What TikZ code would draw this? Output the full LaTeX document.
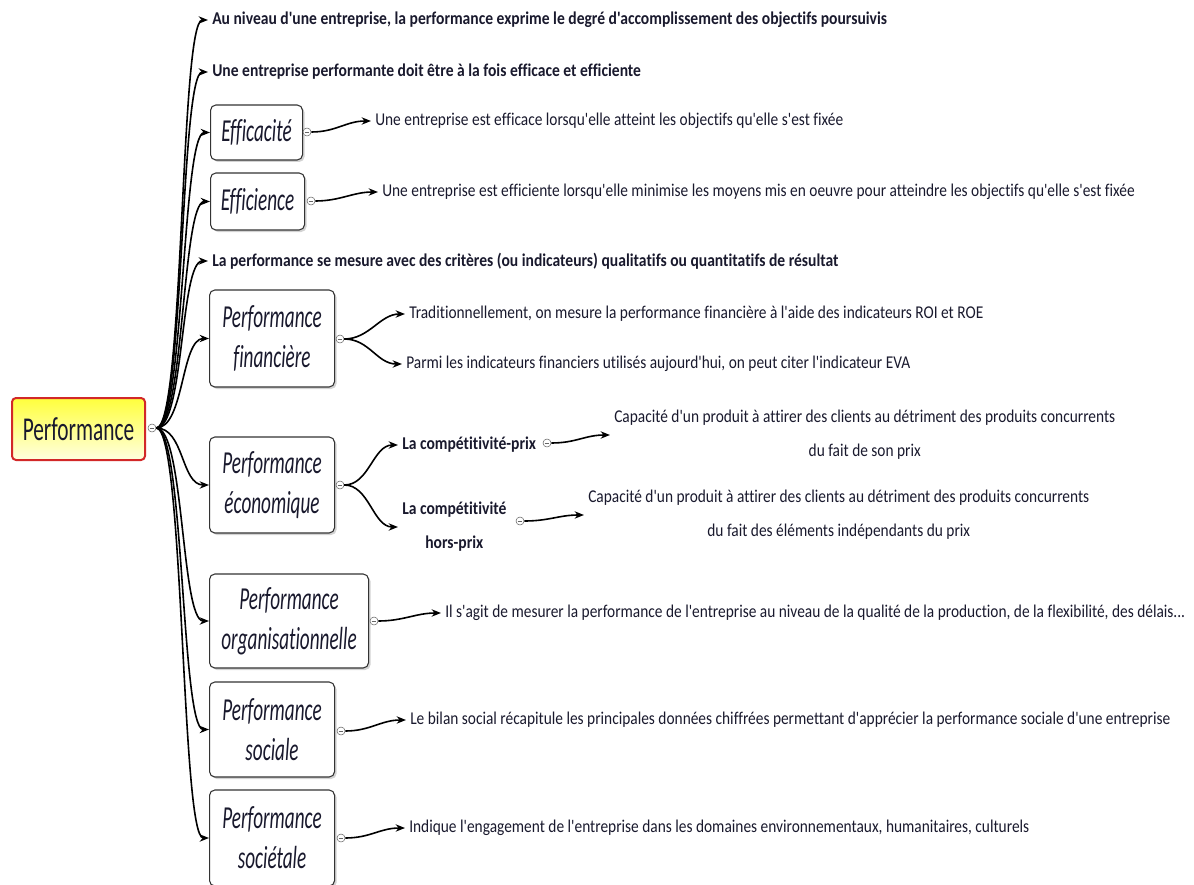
\documentclass[tikz,border=0pt]{standalone}
\usepackage{fontspec}
\setmainfont[FakeStretch=0.855,BoldFeatures={FakeStretch=0.866},Ligatures={TeXOff,NoCommon}]{Carlito}
\newfontfamily\boxfont[FakeStretch=0.6,Ligatures={TeXOff,NoCommon}]{Carlito}
\newfontfamily\rootfont[FakeStretch=0.64,Ligatures={TeXOff,NoCommon}]{Carlito}
\usetikzlibrary{arrows.meta,shadows}
\definecolor{txt}{RGB}{25,25,45}
\definecolor{rootred}{RGB}{210,40,40}
\definecolor{rootyel}{RGB}{255,255,60}

\begin{document}
\begin{tikzpicture}[x=0.75pt,y=-0.75pt,
  leaf/.style={anchor=west,inner sep=3pt,text=txt,align=center,font=\fontsize{13.5}{25.5}\selectfont},
  bleaf/.style={leaf,font=\fontsize{13.5}{25.5}\selectfont\bfseries},
  topic/.style={draw=black!80,fill=white,rounded corners=4pt,line width=0.8pt,anchor=west,inner sep=0pt,align=center,text=txt,
    font=\boxfont\itshape\fontsize{24}{30}\selectfont,drop shadow={shadow xshift=1.5pt,shadow yshift=-1.5pt,opacity=0.35}},
  central/.style={draw=rootred,line width=1.5pt,rounded corners=3pt,top color=rootyel,bottom color=yellow!12,text=txt,
    minimum width=99.75pt,minimum height=46.5pt,font=\rootfont\fontsize{25}{30}\selectfont},
  knob/.style={circle,draw=black!60,fill=white,minimum size=6pt,inner sep=0pt,
    path picture={\draw[black!60] ([xshift=-1.8pt]path picture bounding box.center)--([xshift=1.8pt]path picture bounding box.center);}},
  link/.style={line width=1.2pt,-{Stealth[length=7pt,width=5.5pt]}}]
\path[use as bounding box,clip] (0,0) rectangle (1194,884);

\node[central] (perf) at (78.5,429) {Performance};
\node[knob] (kperf) at (152,428) {};

\node[bleaf] (niveau) at (208,20) {Au niveau d'une entreprise, la performance exprime le degré d'accomplissement des objectifs poursuivis};
\node[bleaf] (performante) at (208,72) {Une entreprise performante doit être à la fois efficace et efficiente};
\node[topic,minimum width=69pt,minimum height=41.25pt] (efficacite) at (210,132.5) {Efficacité};
\node[topic,minimum width=70.5pt,minimum height=42.75pt] (efficience) at (210,201.5) {Efficience};
\node[bleaf] (mesure) at (208,261) {La performance se mesure avec des critères (ou indicateurs) qualitatifs ou quantitatifs de résultat};
\node[topic,minimum width=93.75pt,minimum height=72.75pt] (financiere) at (209,338.5) {Performance\\financière};
\node[topic,minimum width=93.75pt,minimum height=72pt] (economique) at (209,485) {Performance\\économique};
\node[topic,minimum width=119.25pt,minimum height=70.5pt] (organisation) at (209,621) {Performance\\organisationnelle};
\node[topic,minimum width=93.75pt,minimum height=71.25pt] (sociale) at (209,729.5) {Performance\\sociale};
\node[topic,minimum width=93.75pt,minimum height=72pt] (societale) at (209,838) {Performance\\sociétale};

\node[knob] (keff) at (307,132) {}; \node[knob] (kefi) at (311,201) {};
\node[knob] (kfin) at (340,339) {}; \node[knob] (keco) at (340,485) {};
\node[knob] (korg) at (374,621) {}; \node[knob] (ksoc) at (341,731) {}; \node[knob] (ksoct) at (341,838) {};

\node[leaf] (efficace) at (371,121) {Une entreprise est efficace lorsqu'elle atteint les objectifs qu'elle s'est fixée};
\node[leaf] (efficiente) at (378,192) {Une entreprise est efficiente lorsqu'elle minimise les moyens mis en oeuvre pour atteindre les objectifs qu'elle s'est fixée};
\node[leaf] (roi) at (405,314) {Traditionnellement, on mesure la performance financière à l'aide des indicateurs ROI et ROE};
\node[leaf] (eva) at (402,364) {Parmi les indicateurs financiers utilisés aujourd'hui, on peut citer l'indicateur EVA};
\node[bleaf] (prix) at (398,445) {La compétitivité-prix};
\node[bleaf] (horsprix) at (398,527) {La compétitivité\\hors-prix};
\node[knob] (kprix) at (547,443) {}; \node[knob] (khors) at (520,521) {};
\node[leaf] (dprix) at (610,435) {Capacité d'un produit à attirer des clients au détriment des produits concurrents\\du fait de son prix};
\node[leaf] (dhors) at (584,515) {Capacité d'un produit à attirer des clients au détriment des produits concurrents\\du fait des éléments indépendants du prix};
\node[leaf] (delais) at (441,613) {Il s'agit de mesurer la performance de l'entreprise au niveau de la qualité de la production, de la flexibilité, des délais...};
\node[leaf] (bilan) at (406,720) {Le bilan social récapitule les principales données chiffrées permettant d'apprécier la performance sociale d'une entreprise};
\node[leaf] (engagement) at (405,828) {Indique l'engagement de l'entreprise dans les domaines environnementaux, humanitaires, culturels};

\foreach \c in {niveau,performante,efficacite,efficience,mesure,financiere,economique,organisation,sociale,societale}
  \draw[link] (kperf.east) .. controls +(28,0) and +(-28,0) .. (\c.west);
\foreach \a/\b in {keff/efficace,kefi/efficiente,kfin/roi,kfin/eva,keco/prix,keco/horsprix,kprix/dprix,khors/dhors,korg/delais,ksoc/bilan,ksoct/engagement}
  \draw[link] (\a.east) .. controls +(25,0) and +(-25,0) .. (\b.west);
\end{tikzpicture}
\end{document}
